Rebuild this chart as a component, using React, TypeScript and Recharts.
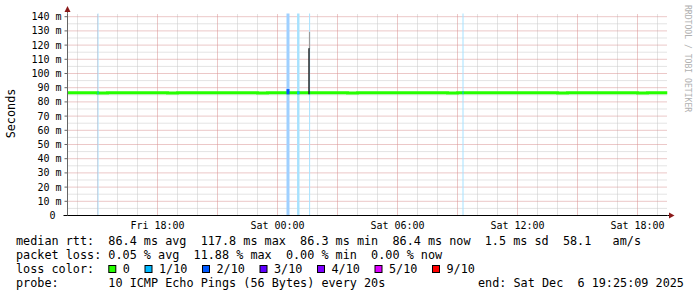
import { ComposedChart, Line, XAxis, YAxis, ReferenceLine, ReferenceArea } from "recharts";

// hours since Fri 13:30, one median sample every 30 min
const medianMs = [
  86.4, 86.4, 86.4, 86.3, 86.4, 86.4, 86.5, 86.4, 86.4, 86.4,
  86.3, 86.4, 86.4, 86.4, 86.5, 86.4, 86.4, 86.4, 86.4, 86.3,
  86.4, 86.4, 86.5, 86.4, 86.4, 86.4, 86.4, 86.4, 86.3, 86.4,
  86.4, 86.4, 86.4, 86.4, 86.5, 86.4, 86.4, 86.4, 86.3, 86.4,
  86.4, 86.4, 86.4, 86.4, 86.4, 86.5, 86.4, 86.4, 86.4, 86.3,
  86.4, 86.4, 86.4, 86.4, 86.4, 86.4, 86.4, 86.3, 86.4, 86.4,
  86.4,
];
const sampleHours = medianMs.map((_, i) => i * 0.5);

const xTickHours = [4.5, 10.5, 16.5, 22.5, 28.5];
const xTickLabels = ["Fri 18:00", "Sat 00:00", "Sat 06:00", "Sat 12:00", "Sat 18:00"];
const yTicks = [0, 10, 20, 30, 40, 50, 60, 70, 80, 90, 100, 110, 120, 130, 140];

// periods with packet loss (hours, loss level in tenths)
const lossStart = [1.5, 10.95, 11.48, 12.08, 19.75];
const lossEnd = [1.55, 11.1, 11.6, 12.13, 19.8];
const lossLevel = [1, 2, 1, 1, 1];

// the single high-latency sample
const spikeStart = 12.04;
const spikeEnd = 12.13;
const spikeMedian = 117.8;
const spikeSmokeTop = 129.3;

const lossLabels = ["0", "1/10", "2/10", "3/10", "4/10", "5/10", "9/10"];
const lossColors = ["#26ff00", "#00b8ff", "#0059ff", "#5e00ff", "#7e00ff", "#dd00ff", "#ff0000"];
const lossShade: Record<number, string> = { 1: "#a6e2ff", 2: "#9fd0ff" };

const statLines = [
  "median rtt:  86.4 ms avg  117.8 ms max  86.3 ms min  86.4 ms now  1.5 ms sd  58.1   am/s",
  "packet loss: 0.05 % avg  11.88 % max  0.00 % min  0.00 % now",
];
const probeText = "probe:       10 ICMP Echo Pings (56 Bytes) every 20s";
const endText = "end: Sat Dec  6 19:25:09 2025";

const Y_MAX = 142.25;
const MONO = "'DejaVu Sans Mono', monospace";
const CH = 7.1;
const PLOT = { left: 67.5, right: 667.5, top: 13.5, bottom: 215.5 };

const data = sampleHours.map((t, i) => ({ t, median: medianMs[i] }));

const minorY = [5, 15, 25, 35, 45, 55, 65, 75, 85, 95, 105, 115, 125, 135];
const majorY = yTicks.filter((v) => v > 0);
const hourLines = Array.from({ length: 30 }, (_, i) => i + 0.5);
const majorX = hourLines.filter((h) => (h - 1.5) % 3 === 0);
const minorX = hourLines.filter((h) => (h - 1.5) % 3 !== 0);

function YTick(props: any) {
  const { x, y, payload } = props;
  const v = payload.value;
  return (
    <text x={v === 0 ? x - 7 : x - 1} y={y} dy={3.5} textAnchor="end" fontFamily={MONO} fontSize={10} fill="#000">
      {v === 0 ? "0" : `${v} m`}
    </text>
  );
}

function XTick(props: any) {
  const { x, y, payload } = props;
  const idx = xTickHours.indexOf(payload.value);
  return (
    <text x={x} y={y} dy={11.5} textAnchor="middle" fontFamily={MONO} fontSize={10} fill="#000">
      {xTickLabels[idx]}
    </text>
  );
}

export default function App() {
  let lx = 16 + 13 * CH;
  const legendBoxes = lossLabels.map((label, i) => {
    const box = { x: lx, label, color: lossColors[i] };
    lx = lx + 14.5 + label.length * CH + 14.6;
    return box;
  });

  return (
    <div style={{ position: "absolute", left: 0, top: 0, width: 697, height: 297, background: "#fff" }}>
      <ComposedChart
        width={697}
        height={297}
        data={data}
        margin={{ top: 13.5, right: 29.5, bottom: 61.5, left: 7.5 }}
      >
        <XAxis
          dataKey="t"
          type="number"
          domain={[0, 30]}
          ticks={xTickHours}
          interval={0}
          tick={<XTick />}
          tickLine={false}
          tickSize={0}
          height={20}
          axisLine={{ stroke: "#000" }}
          allowDataOverflow
        />
        <YAxis
          type="number"
          domain={[0, Y_MAX]}
          ticks={yTicks}
          interval={0}
          tick={<YTick />}
          tickSize={3}
          tickLine={{ stroke: "#666" }}
          axisLine={{ stroke: "#666" }}
          width={60}
          allowDataOverflow
        />
        {minorY.map((v) => (
          <ReferenceLine key={`my${v}`} y={v} stroke="#c8c8c8" strokeDasharray="1 1" zIndex={-90} />
        ))}
        {minorX.map((h) => (
          <ReferenceLine key={`mx${h}`} x={h} stroke="#c8c8c8" strokeDasharray="1 1" zIndex={-90} />
        ))}
        {majorY.map((v) => (
          <ReferenceLine key={`My${v}`} y={v} stroke="#d89090" strokeDasharray="1 1" zIndex={-80} />
        ))}
        {majorX.map((h) => (
          <ReferenceLine key={`Mx${h}`} x={h} stroke="#d89090" strokeDasharray="1 1" zIndex={-80} />
        ))}
        {lossStart.map((s, i) => (
          <ReferenceArea
            key={`la${i}`}
            x1={s}
            x2={lossEnd[i]}
            y1={0}
            y2={Y_MAX}
            fill={lossShade[lossLevel[i]]}
            fillOpacity={1}
            stroke="none"
            zIndex={-50}
          />
        ))}
        <Line
          type="stepAfter"
          dataKey="median"
          stroke="#26ff00"
          strokeWidth={3}
          dot={false}
          activeDot={false}
          isAnimationActive={false}
        />
        {lossStart.map((s, i) => (
          <ReferenceArea
            key={`ls${i}`}
            x1={s}
            x2={lossEnd[i]}
            y1={85.3}
            y2={lossLevel[i] > 1 ? 89 : 87.5}
            fill={lossColors[lossLevel[i]]}
            fillOpacity={1}
            stroke="none"
            zIndex={450}
          />
        ))}
        <ReferenceArea
          x1={spikeStart + 0.03}
          x2={spikeEnd}
          y1={spikeMedian - 0.5}
          y2={spikeSmokeTop}
          fill="#9a9a9a"
          fillOpacity={1}
          stroke="none"
          zIndex={460}
        />
        <ReferenceArea
          x1={spikeStart}
          x2={spikeEnd - 0.02}
          y1={85.4}
          y2={spikeMedian}
          fill="#1a1a1a"
          fillOpacity={1}
          stroke="none"
          zIndex={470}
        />
      </ComposedChart>
      <svg
        width={697}
        height={297}
        style={{ position: "absolute", left: 0, top: 0, pointerEvents: "none" }}
      >
        {/* axis arrow heads */}
        <line x1={PLOT.left} y1={PLOT.top} x2={PLOT.left} y2={10} stroke="#666" />
        <polygon
          points={`${PLOT.left - 3},${PLOT.top - 1.5} ${PLOT.left + 3},${PLOT.top - 1.5} ${PLOT.left},${PLOT.top - 7.5}`}
          fill="#8b1a1a"
        />
        <line x1={PLOT.right} y1={PLOT.bottom} x2={PLOT.right + 2} y2={PLOT.bottom} stroke="#000" />
        <polygon
          points={`${PLOT.right + 1.5},${PLOT.bottom - 3} ${PLOT.right + 1.5},${PLOT.bottom + 3} ${PLOT.right + 7},${PLOT.bottom}`}
          fill="#8b1a1a"
        />
        <line x1={PLOT.left - 4} y1={PLOT.bottom} x2={PLOT.left} y2={PLOT.bottom} stroke="#000" />
        <text
          transform="translate(15,113.5) rotate(-90)"
          textAnchor="middle"
          fontFamily={MONO}
          fontSize={11.8}
          fill="#000"
        >
          Seconds
        </text>
        <text
          transform="translate(685,5) rotate(90)"
          fontFamily={MONO}
          fontSize={8.1}
          fill="#b0b0b0"
        >
          RRDTOOL / TOBI OETIKER
        </text>
        {statLines.map((s, i) => (
          <text key={i} x={16} y={245 + i * 14} fontFamily={MONO} fontSize={11.8} fill="#000" style={{ whiteSpace: "pre" }}>
            {s}
          </text>
        ))}
        <text x={16} y={273} fontFamily={MONO} fontSize={11.8} fill="#000">
          loss color:
        </text>
        {legendBoxes.map((b) => (
          <g key={b.label}>
            <rect x={b.x + 0.5} y={265.5} width={7} height={7} fill={b.color} stroke="#000" strokeWidth={1} />
            <text x={b.x + 14.5} y={273} fontFamily={MONO} fontSize={11.8} fill="#000">
              {b.label}
            </text>
          </g>
        ))}
        <text x={16} y={287} fontFamily={MONO} fontSize={11.8} fill="#000" style={{ whiteSpace: "pre" }}>
          {probeText}
        </text>
        <text x={478} y={287} fontFamily={MONO} fontSize={11.8} fill="#000" style={{ whiteSpace: "pre" }}>
          {endText}
        </text>
      </svg>
    </div>
  );
}
